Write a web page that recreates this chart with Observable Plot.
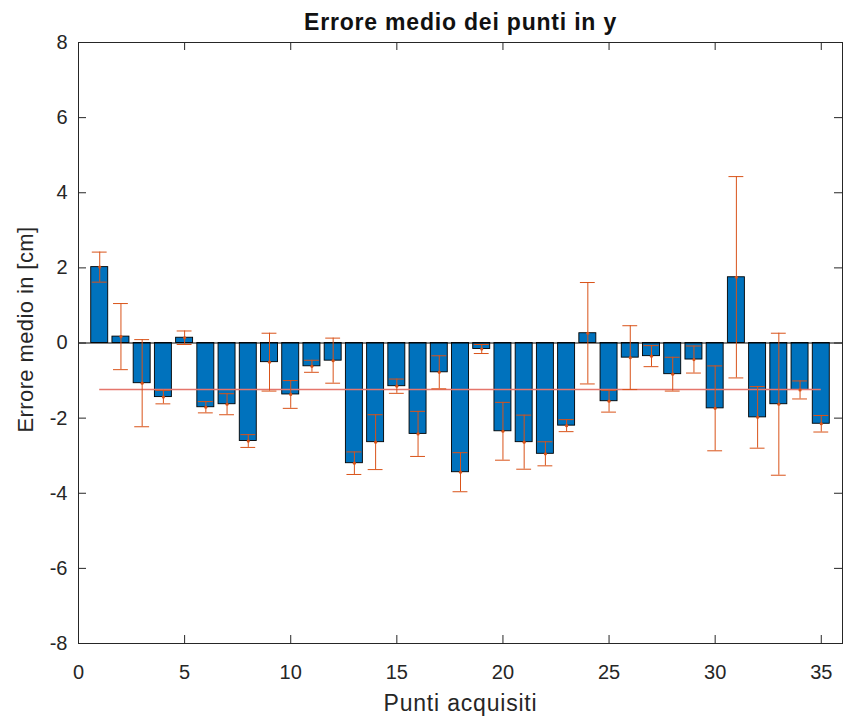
<!DOCTYPE html>
<html><head><meta charset="utf-8">
<script src="https://cdn.jsdelivr.net/npm/d3@7"></script>
<script src="https://cdn.jsdelivr.net/npm/@observablehq/plot@0.6"></script>
<style>
body{margin:0;background:#fff}
.ttl text{letter-spacing:0.8px}
.xlab text{letter-spacing:0.8px}
.ylab text{letter-spacing:0.4px}
</style>
</head><body><div id="chart"></div>
<script>
const titleText = "Errore medio dei punti in y";
const xLabel = "Punti acquisiti";
const yLabel = "Errore medio in [cm]";
const points = [1,2,3,4,5,6,7,8,9,10,11,12,13,14,15,16,17,18,19,20,21,22,23,24,25,26,27,28,29,30,31,32,33,34,35];
const values = [2.02, 0.17, -1.07, -1.44, 0.14, -1.71, -1.63, -2.61, -0.51, -1.37, -0.62, -0.47, -3.20, -2.64, -1.15, -2.42, -0.78, -3.44, -0.16, -2.35, -2.64, -2.95, -2.20, 0.26, -1.55, -0.39, -0.35, -0.83, -0.44, -1.74, 1.75, -1.98, -1.63, -1.25, -2.15];
const errors = [0.40, 0.88, 1.16, 0.18, 0.18, 0.15, 0.28, 0.17, 0.77, 0.37, 0.16, 0.60, 0.30, 0.73, 0.19, 0.60, 0.44, 0.52, 0.12, 0.77, 0.72, 0.32, 0.16, 1.35, 0.29, 0.85, 0.28, 0.45, 0.36, 1.13, 2.68, 0.82, 1.89, 0.24, 0.22];
const xTicks = [0,5,10,15,20,25,30,35];
const yTicks = [-8,-6,-4,-2,0,2,4,6,8];

const data = points.map((x,i)=>({x, v: values[i], e: errors[i]}));
const meanVal = d3.mean(values);

const W=844, H=723, mL=78, mT=42, mR=2, mB=80;
const innerW = W-mL-mR, innerH = H-mT-mB;
const ink = "#262626", orange = "#D95319";
const font = "'Liberation Sans', Arial, sans-serif";

const chart = Plot.plot({
  width: W, height: H,
  marginLeft: mL, marginTop: mT, marginRight: mR, marginBottom: mB,
  style: {fontFamily: font, fontSize: "20px", color: ink, background: "#fff"},
  x: {domain: [0,36]},
  y: {domain: [-8,8]},
  marks: [
    Plot.rect(data, {x1: d=>d.x-0.4, x2: d=>d.x+0.4, y1: 0, y2: "v", fill: "#0072BD", stroke: "#000", strokeWidth: 0.9}),
    Plot.ruleY([0], {stroke: "#000", strokeWidth: 1}),
    Plot.ruleY([meanVal], {x1: 1, x2: 35, stroke: "#E5766C", strokeWidth: 1.7}),
    Plot.ruleX(data, {x: "x", y1: d=>d.v-d.e, y2: d=>d.v+d.e, stroke: orange, strokeWidth: 1}),
    Plot.ruleY(data, {y: d=>d.v+d.e, x1: d=>d.x-0.35, x2: d=>d.x+0.35, stroke: orange, strokeWidth: 1}),
    Plot.ruleY(data, {y: d=>d.v-d.e, x1: d=>d.x-0.35, x2: d=>d.x+0.35, stroke: orange, strokeWidth: 1}),
    Plot.dot(data, {x: "x", y: "v", r: 1.6, fill: orange, stroke: null}),
    Plot.frame({stroke: ink, strokeWidth: 1}),
    Plot.ruleX(xTicks, {x: d=>d, insetTop: innerH-8, stroke: ink}),
    Plot.ruleX(xTicks, {x: d=>d, insetBottom: innerH-8, stroke: ink}),
    Plot.ruleY(yTicks, {y: d=>d, insetRight: innerW-8, stroke: ink}),
    Plot.ruleY(yTicks, {y: d=>d, insetLeft: innerW-8, stroke: ink}),
    Plot.axisX(xTicks, {anchor: "bottom", tickSize: 0, tickPadding: 21, fontSize: 20, label: null, tickFormat: d=>String(d)}),
    Plot.axisY(yTicks, {anchor: "left", tickSize: 0, tickPadding: 11, fontSize: 20, label: null, tickFormat: d=>String(d)}),
    Plot.text([titleText], {frameAnchor: "top", text: d=>d, dy: -13, lineAnchor: "bottom", fontSize: 23, fontWeight: "bold", fill: "#111", className: "ttl"}),
    Plot.text([xLabel], {frameAnchor: "bottom", text: d=>d, dy: 67, lineAnchor: "bottom", fontSize: 23, fill: ink, className: "xlab"}),
    Plot.text([yLabel], {frameAnchor: "left", textAnchor: "middle", text: d=>d, rotate: -90, dx: -46, dy: -13.5, lineAnchor: "bottom", fontSize: 22, fill: ink, className: "ylab"})
  ]
});
document.getElementById("chart").appendChild(chart);
</script>
</body></html>
